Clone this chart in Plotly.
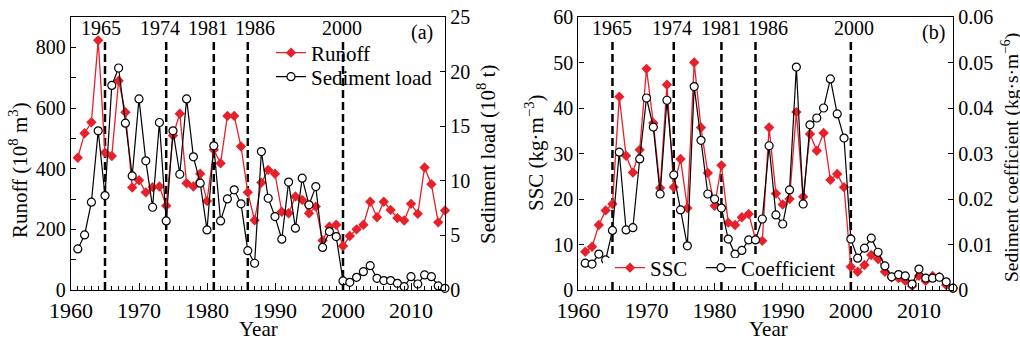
import plotly.graph_objects as go

years = list(range(1961, 2016))

runoff = [436, 517, 553, 823, 453, 442, 690, 586, 338, 362,
          322, 339, 341, 278, 509, 581, 352, 341, 383, 293,
          462, 418, 574, 574, 473, 322, 230, 354, 396, 383,
          258, 253, 308, 297, 253, 275, 163, 209, 215, 145,
          178, 200, 215, 291, 240, 291, 264, 237, 229, 284,
          251, 404, 349, 223, 262]

sediment = [3.76, 5.04, 8.04, 14.58, 8.65, 18.73, 20.33, 15.28, 10.45, 17.5,
            11.83, 7.58, 15.34, 6.33, 14.58, 10.6, 17.5, 12.2, 9.78, 5.5,
            13.2, 6.33, 8.34, 9.17, 7.89, 3.6, 2.45, 12.68, 8.4, 6.72,
            4.65, 9.88, 5.66, 10.24, 7.8, 9.47, 3.9, 5.35, 4.89, 0.83,
            0.7, 1.16, 1.68, 2.23, 1.07, 0.86, 0.86, 0.61, 0.3, 1.22,
            0.55, 1.38, 1.22, 0.37, 0.15]

ssc = [8.4, 9.5, 14.3, 17.5, 18.9, 42.5, 29.5, 25.8, 30.8, 48.6,
       36.7, 22.4, 45.1, 22.6, 28.8, 18.0, 50.0, 35.7, 25.7, 18.5,
       27.4, 14.8, 14.3, 16.0, 16.7, 11.2, 10.8, 35.7, 21.2, 18.8,
       20.0, 39.1, 20.5, 34.3, 30.6, 34.5, 24.2, 25.5, 22.6, 5.1,
       4.0, 5.5, 7.7, 6.8, 4.0, 2.8, 2.6, 2.0, 0.9, 3.1,
       2.0, 3.1, 2.9, 1.1, 0.4]

coefficient = [0.0059, 0.0057, 0.0079, 0.0066, 0.0131, 0.0303, 0.0132, 0.0137, 0.0288, 0.0422,
               0.0358, 0.0211, 0.0417, 0.0253, 0.0176, 0.0097, 0.0447, 0.0329, 0.0211, 0.0200,
               0.0180, 0.0112, 0.0079, 0.0087, 0.0110, 0.0110, 0.0156, 0.0317, 0.0165, 0.0145,
               0.0220, 0.0490, 0.0189, 0.0363, 0.0378, 0.0400, 0.0464, 0.0387, 0.0334, 0.0112,
               0.0070, 0.0092, 0.0114, 0.0083, 0.0053, 0.0029, 0.0034, 0.0031, 0.0013, 0.0046,
               0.0026, 0.0026, 0.0028, 0.0018, 0.0004]

break_years = [1965, 1974, 1981, 1986, 2000]
break_labels = ["1965", "1974", "1981", "1986", "2000"]

FONT = "Liberation Serif, Times New Roman, serif"
RED = "#e8202a"
W, H = 1020, 340

def px(x):
    return x / W

def py(y):
    return 1 - y / H

fig = go.Figure()

fig.add_trace(go.Scatter(x=years, y=runoff, name="Runoff", mode="lines+markers",
                         line=dict(color=RED, width=1.3),
                         marker=dict(symbol="diamond", size=8, color=RED),
                         xaxis="x", yaxis="y", legend="legend", cliponaxis=False))
fig.add_trace(go.Scatter(x=years, y=sediment, name="Sediment load", mode="lines+markers",
                         line=dict(color="black", width=1.2),
                         marker=dict(symbol="circle", size=8, color="white",
                                     line=dict(color="black", width=1.2)),
                         xaxis="x", yaxis="y2", legend="legend3", cliponaxis=False))
fig.add_trace(go.Scatter(x=years, y=ssc, name="SSC", mode="lines+markers",
                         line=dict(color=RED, width=1.3),
                         marker=dict(symbol="diamond", size=8, color=RED),
                         xaxis="x2", yaxis="y3", legend="legend2", cliponaxis=False))
fig.add_trace(go.Scatter(x=years, y=coefficient, name="Coefficient", mode="lines+markers",
                         line=dict(color="black", width=1.2),
                         marker=dict(symbol="circle", size=8, color="white",
                                     line=dict(color="black", width=1.2)),
                         xaxis="x2", yaxis="y4", legend="legend4", cliponaxis=False))

xtickfont = dict(family=FONT, size=22, color="black")
ytickfont = dict(family=FONT, size=20, color="black")
ydom = [50 / H, 323 / H]

xcommon = dict(range=[1960, 2015], dtick=10, tick0=1960, ticks="inside", ticklen=7,
               tickwidth=1.2, tickcolor="black", showline=True, linecolor="black",
               linewidth=1.3, mirror=True, showgrid=False, zeroline=False,
               tickfont=xtickfont, automargin=False,
               minor=dict(dtick=1, ticks="inside", ticklen=4, tickcolor="black",
                          tickwidth=1, showgrid=False))

ycommon = dict(ticks="inside", ticklen=5, tickwidth=1.2, tickcolor="black",
               showline=True, linecolor="black", linewidth=1.3, showgrid=False,
               zeroline=False, tickfont=ytickfont, domain=ydom, automargin=False)

def leg(x, y):
    return dict(x=px(x), y=py(y), xanchor="left", yanchor="middle",
                bgcolor="rgba(0,0,0,0)", font=dict(family=FONT, size=21),
                itemwidth=30, orientation="h")

fig.update_layout(
    width=W, height=H,
    margin=dict(l=0, r=0, t=0, b=0, pad=0, autoexpand=False),
    paper_bgcolor="white", plot_bgcolor="white",
    font=dict(family=FONT, color="black", size=20),
    xaxis=dict(domain=[71 / W, 445 / W], anchor="y", **xcommon),
    xaxis2=dict(domain=[578.4 / W, 953 / W], anchor="y3", **xcommon),
    yaxis=dict(range=[0, 900], dtick=200, tick0=0, anchor="x", side="left",
               minor=dict(dtick=100, ticks="inside", ticklen=5, tickcolor="black",
                          tickwidth=1, showgrid=False), **ycommon),
    yaxis2=dict(range=[0, 25], dtick=5, tick0=0, anchor="x", overlaying="y",
                side="right", **ycommon),
    yaxis3=dict(range=[0, 60], dtick=10, tick0=0, anchor="x2", side="left", **ycommon),
    yaxis4=dict(range=[0, 0.06], dtick=0.01, tick0=0, anchor="x2", overlaying="y3",
                side="right", **ycommon),
    legend=leg(271, 53),
    legend3=leg(271, 77),
    legend2=leg(610, 268),
    legend4=leg(701, 268),
    showlegend=True,
)

shapes = []
annotations = []
label_x_a = [1964.4, 1973.1, 1980.2, 1987.0, 1999.9]
label_x_b = [1965.0, 1973.8, 1981.0, 1987.8, 2000.4]
for yr, lab, la, lb in zip(break_years, break_labels, label_x_a, label_x_b):
    for xr, yr_ref, lx in (("x", "y domain", la), ("x2", "y3 domain", lb)):
        shapes.append(dict(type="line", xref=xr, yref=yr_ref, x0=yr, x1=yr,
                           y0=0, y1=0.923, layer="below",
                           line=dict(color="black", width=2.5, dash="8px,4px")))
        annotations.append(dict(x=lx, xref=xr, y=py(28), yref="paper", text=lab,
                                showarrow=False, font=dict(family=FONT, size=20),
                                xanchor="center", yanchor="middle"))

# white backing box behind the panel (b) legend
shapes.append(dict(type="rect", xref="paper", yref="paper",
                   x0=px(603), x1=px(845), y0=py(281), y1=py(258),
                   fillcolor="white", line=dict(width=0), layer="above"))

annotations += [
    dict(x=px(422), y=py(33), xref="paper", yref="paper", text="(a)", showarrow=False,
         font=dict(family=FONT, size=20), xanchor="center", yanchor="middle"),
    dict(x=px(933), y=py(33), xref="paper", yref="paper", text="(b)", showarrow=False,
         font=dict(family=FONT, size=20), xanchor="center", yanchor="middle"),
    dict(x=px(18), y=py(170), xref="paper", yref="paper",
         text="Runoff (10<sup>8</sup> m<sup>3</sup>)", textangle=-90, showarrow=False,
         font=dict(family=FONT, size=21), xanchor="center", yanchor="middle"),
    dict(x=px(487), y=py(155), xref="paper", yref="paper",
         text="Sediment load (10<sup>8</sup> t)", textangle=-90, showarrow=False,
         font=dict(family=FONT, size=21), xanchor="center", yanchor="middle"),
    dict(x=px(535), y=py(153), xref="paper", yref="paper",
         text="SSC (kg·m<sup>−3</sup>)", textangle=-90, showarrow=False,
         font=dict(family=FONT, size=21), xanchor="center", yanchor="middle"),
    dict(x=px(1010), y=py(158), xref="paper", yref="paper",
         text="Sediment coefficient (kg·s·m<sup>−6</sup>)", textangle=-90, showarrow=False,
         font=dict(family=FONT, size=19.5), xanchor="center", yanchor="middle"),
    dict(x=px(258), y=py(329), xref="paper", yref="paper", text="Year", showarrow=False,
         font=dict(family=FONT, size=21), xanchor="center", yanchor="middle"),
    dict(x=px(768), y=py(329), xref="paper", yref="paper", text="Year", showarrow=False,
         font=dict(family=FONT, size=21), xanchor="center", yanchor="middle"),
]

fig.update_layout(shapes=shapes, annotations=annotations)

fig.write_html("out.html")
